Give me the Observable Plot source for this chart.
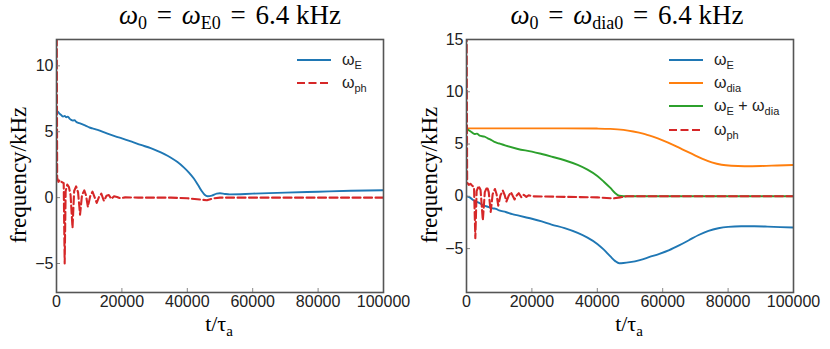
<!DOCTYPE html>
<html>
<head>
<meta charset="utf-8">
<script src="https://cdn.jsdelivr.net/npm/d3@7"></script>
<script src="https://cdn.jsdelivr.net/npm/@observablehq/plot@0.6"></script>
<style>
  html, body { margin: 0; padding: 0; background: #fff; }
  #wrap { position: relative; width: 830px; height: 349px; overflow: hidden; }
  .panel { position: absolute; top: 0; }
  .title { position: absolute; top: 0; font-family: "Liberation Serif", "DejaVu Serif", serif; font-size: 27px; line-height: 30px; color: #000; white-space: nowrap; transform: translateX(-50%); }
  .title i { font-style: italic; }
  .title .eq { margin: 0 3px; }
  .title sub { font-size: 18px; vertical-align: -5px; line-height: 0; }
  .xlab { position: absolute; font-family: "Liberation Serif", "DejaVu Serif", serif; font-size: 22px; white-space: nowrap; transform: translateX(-50%); }
  .xlab sub { font-size: 15px; vertical-align: -5px; line-height: 0; }
  .ylab { position: absolute; font-family: "Liberation Serif", "DejaVu Serif", serif; font-size: 23px; white-space: nowrap; transform: translate(-50%, -50%) rotate(-90deg); }
  .legend { position: absolute; font-family: "Liberation Sans", Arial, sans-serif; font-size: 16px; color: #222; }
  .legend .row { position: relative; height: 23.3px; display: flex; align-items: center; }
  .legend svg { margin-right: 11px; }
  .legend sub { font-size: 11px; vertical-align: -4px; line-height: 0; }
</style>
</head>
<body>
<div id="wrap"></div>
<script>
// ---------- Data ----------
// Left panel: omega_0 = omega_E0 = 6.4 kHz
const tE_left = [0,500,1000,1500,2000,2500,3000,3500,4000,4500,5000,5500,6000,7000,8000,9000,10000,11000,12000,13000,14000,15600,18000,20000,23000,25800,28800,31000,33000,35000,37000,39000,40500,42000,43300,44400,45300,46200,47500,49000,50000,51500,53000,60000,70000,80000,90000,100000];
const wE_left = [6.6,6.5,6.35,6.25,6.15,6.2,6.1,6.15,6.0,5.9,5.85,5.88,5.75,5.65,5.55,5.45,5.33,5.25,5.18,5.1,5.0,4.85,4.65,4.5,4.25,4.0,3.75,3.53,3.3,3.03,2.7,2.28,1.9,1.45,0.95,0.5,0.22,0.1,0.15,0.3,0.33,0.28,0.25,0.3,0.38,0.45,0.52,0.56];

const tPh_left = [0,200,600,1000,1500,2200,2500,2800,3300,3800,4300,4900,5400,6000,6600,7200,7800,8500,9000,9600,10300,11000,11700,12300,13000,13700,14500,15300,16000,16800,17600,18500,19500,21000,25000,35000,40000,44000,46000,48000,50000,100000];
const wPh_left = [20,1.5,1.2,1.35,1.2,1.1,-5.0,0.5,1.0,0.8,0.2,-2.3,0.5,0.85,0.4,-1.3,0.2,0.55,0.2,-0.7,0.1,0.45,0.0,-0.4,0.05,0.3,-0.25,0.15,0.2,-0.1,0.1,0.05,-0.05,0.02,0,0,-0.05,-0.15,-0.2,-0.05,0,0];

// Right panel: omega_0 = omega_dia0 = 6.4 kHz
const tE_right = [0,1000,2000,3000,4000,5000,6000,7000,8000,9000,10000,12000,14000,16000,18000,20000,23000,26000,30000,34000,37000,40000,42000,44000,45500,46700,48000,50000,53000,56000,59000,62000,65000,68000,71000,74000,77000,80000,84000,88000,92000,96000,100000];
const wE_right = [0,-0.1,-0.35,-0.5,-0.65,-0.85,-0.95,-1.05,-1.15,-1.2,-1.35,-1.5,-1.7,-1.85,-2.0,-2.15,-2.4,-2.7,-3.05,-3.5,-3.95,-4.55,-5.1,-5.75,-6.2,-6.4,-6.38,-6.3,-6.1,-5.8,-5.5,-5.15,-4.7,-4.2,-3.7,-3.3,-3.05,-2.92,-2.87,-2.87,-2.9,-2.95,-2.98];

const tDia_right = [0,10000,20000,30000,40000,44000,48000,51000,54000,57000,60000,63000,66000,69000,72000,75000,78000,81000,85000,90000,95000,100000];
const wDia_right = [6.5,6.5,6.5,6.5,6.48,6.45,6.35,6.2,6.0,5.7,5.35,4.95,4.5,4.05,3.6,3.25,3.02,2.92,2.88,2.9,2.95,3.0];

const tSum_right = [0,800,1500,2450,3200,4000,5500,6500,7500,8550,10000,12000,15700,20000,23000,26000,30000,34000,37000,40000,42000,44000,45500,46700,48000,100000];
const wSum_right = [6.5,6.3,6.15,5.96,6.0,5.8,5.7,5.55,5.4,5.2,5.05,4.85,4.53,4.28,4.05,3.8,3.45,3.0,2.55,1.95,1.4,0.8,0.3,0.05,0,0];

const tPh_right = [0,200,700,1200,1800,2300,2700,3100,3700,4300,5000,5600,6300,6800,7400,8000,8700,9200,9700,10400,11100,11700,12200,12900,13600,14200,14700,15400,16000,16800,17500,18300,19000,20000,30000,40000,45000,47000,49000,100000];
const wPh_right = [20,1.3,1.1,1.2,1.0,0.9,-4.0,0.5,1.0,0.6,-2.3,0.4,0.9,0.4,-1.5,0.2,0.7,0.2,-0.9,0.1,0.55,0.1,-0.5,0.05,0.4,0.0,-0.3,0.1,0.3,-0.1,0.15,-0.05,0.1,0,-0.05,-0.1,-0.2,-0.1,0,0];

const xTicks = [0,20000,40000,60000,80000,100000];
const yTicksLeft = [-5,0,5,10];
const yTicksRight = [-5,0,5,10,15];
const yDomainLeft = [-7.2, 12];
const yDomainRight = [-9.2, 15];

const colors = {E: "#1f77b4", dia: "#ff7f0e", sum: "#2ca02c", ph: "#d62728"};

// ---------- Helpers ----------
const zip = (ts, vs) => ts.map((t, i) => ({t, v: vs[i]}));

function panel({series, yDomain, yTicks, marginLeft, marginRight}) {
  const marks = [];
  for (const s of series) {
    marks.push(Plot.line(zip(s.t, s.v), {
      x: "t", y: "v", stroke: s.color, strokeWidth: s.dash ? 2.1 : 1.9,
      strokeDasharray: s.dash ? "8,3.5" : null,
      curve: s.dash ? "linear" : "monotone-x", clip: true
    }));
  }
  marks.push(Plot.axisX({ticks: xTicks, tickFormat: d3.format("d"), tickSize: -4, tickPadding: 7, stroke: "#888", strokeWidth: 1, label: null, fill: "#222"}));
  marks.push(Plot.axisY({ticks: yTicks, tickFormat: d => d < 0 ? "\u2212" + Math.abs(d) : String(d), tickSize: -4, tickPadding: 7, stroke: "#888", strokeWidth: 1, label: null, fill: "#222"}));
  marks.push(Plot.frame({stroke: "#555", strokeWidth: 1.6}));
  return Plot.plot({
    width: 415, height: 349,
    marginTop: 39, marginBottom: 57, marginLeft, marginRight,
    x: {domain: [0, 100000]},
    y: {domain: yDomain},
    style: {fontFamily: "'Liberation Sans', Arial, sans-serif", fontSize: "16px", background: "#fff", overflow: "visible"},
    marks
  });
}

const wrap = document.getElementById("wrap");

function place(el, left) {
  el.classList.add("panel");
  el.style.left = left + "px";
  wrap.appendChild(el);
}

const left = panel({
  series: [
    {t: tE_left, v: wE_left, color: colors.E},
    {t: tPh_left, v: wPh_left, color: colors.ph, dash: true}
  ],
  yDomain: yDomainLeft, yTicks: yTicksLeft, marginLeft: 56, marginRight: 32
});
place(left, 0);

const right = panel({
  series: [
    {t: tE_right, v: wE_right, color: colors.E},
    {t: tDia_right, v: wDia_right, color: colors.dia},
    {t: tSum_right, v: wSum_right, color: colors.sum},
    {t: tPh_right, v: wPh_right, color: colors.ph, dash: true}
  ],
  yDomain: yDomainRight, yTicks: yTicksRight, marginLeft: 51, marginRight: 37
});
place(right, 415);

// ---------- Text ----------
function addHTML(cls, html, css) {
  const d = document.createElement("div");
  d.className = cls;
  d.innerHTML = html;
  Object.assign(d.style, css);
  wrap.appendChild(d);
  return d;
}

addHTML("title", "<i>ω</i><sub>0</sub> <span class=\"eq\">=</span> <i>ω</i><sub>E0</sub> <span class=\"eq\">=</span> 6.4 kHz", {left: "230px", top: "0px"});
addHTML("title", "<i>ω</i><sub>0</sub> <span class=\"eq\">=</span> <i>ω</i><sub>dia0</sub> <span class=\"eq\">=</span> 6.4 kHz", {left: "627px", top: "0px"});

addHTML("xlab", "t/τ<sub>a</sub>", {left: "219px", top: "311px"});
addHTML("xlab", "t/τ<sub>a</sub>", {left: "629px", top: "311px"});

addHTML("ylab", "frequency/kHz", {left: "19px", top: "175px"});
addHTML("ylab", "frequency/kHz", {left: "430px", top: "175px"});

function legend(items, left, top) {
  const html = items.map(it => {
    const dash = it.dash ? 'stroke-dasharray="8,3.5"' : '';
    return `<div class="row"><svg width="34" height="6"><line x1="0" x2="34" y1="3" y2="3" stroke="${it.color}" stroke-width="2" ${dash}/></svg><span>${it.label}</span></div>`;
  }).join("");
  addHTML("legend", html, {left: left + "px", top: top + "px"});
}

legend([
  {label: "ω<sub>E</sub>", color: colors.E},
  {label: "ω<sub>ph</sub>", color: colors.ph, dash: true}
], 297, 48);

legend([
  {label: "ω<sub>E</sub>", color: colors.E},
  {label: "ω<sub>dia</sub>", color: colors.dia},
  {label: "ω<sub>E</sub> + ω<sub>dia</sub>", color: colors.sum},
  {label: "ω<sub>ph</sub>", color: colors.ph, dash: true}
], 669, 48);
</script>
</body>
</html>
